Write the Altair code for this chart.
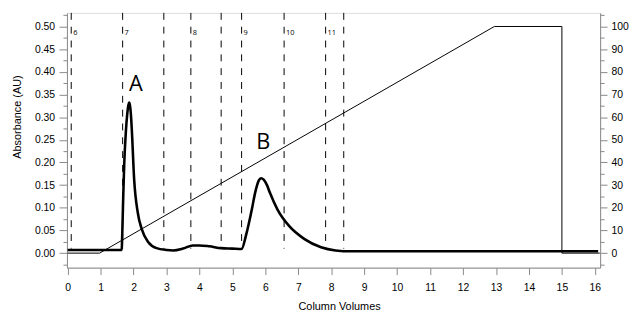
import altair as alt
import pandas as pd

# Absorbance trace (column volumes vs AU)
cv = [0.0, 1.64, 1.665, 1.69, 1.72, 1.77, 1.81, 1.845, 1.87, 1.895, 1.92, 1.95, 2.02, 2.13, 2.25, 2.45, 2.7,
      3.0, 3.2, 3.5, 3.8, 4.0, 4.3, 4.66, 5.0, 5.28, 5.41, 5.59, 5.69, 5.8, 5.87, 5.95, 6.05, 6.14, 6.37,
      6.72, 7.19, 7.69, 8.13, 8.6, 16.1]
absorbance = [0.007, 0.007, 0.06, 0.13, 0.2, 0.27, 0.307, 0.327, 0.332, 0.325, 0.307, 0.27, 0.162, 0.089,
              0.053, 0.024, 0.011, 0.007, 0.006, 0.010, 0.017, 0.017, 0.015, 0.011, 0.010, 0.009, 0.038,
              0.096, 0.133, 0.16, 0.165, 0.162, 0.15, 0.133, 0.096, 0.06, 0.031, 0.013, 0.006, 0.004, 0.004]

# Gradient (% B) on the right axis
grad_cv = [0.0, 0.97, 12.95, 15.0, 15.0, 16.15]
grad_pct = [0, 0, 100, 100, 0, 0]

# Fraction markers
frac_cv = [0.11, 1.67, 2.92, 3.74, 4.66, 5.28, 6.57, 7.83, 8.38]
frac_labels = ["6", "7", "", "8", "", "9", "10", "11", ""]
frac_top = 0.53
frac_bottom = 0.01
frac_label_y = 0.4865

# Peak labels
peak_names = ["A", "B"]
peak_cv = [2.07, 5.94]
peak_y = [0.372, 0.245]

x_ticks = list(range(0, 17))
left_ticks = [round(-0.025 + 0.025 * i, 3) for i in range(23)]
right_ticks = [-5 + 5 * i for i in range(23)]

FONT = "Open Sans"
x_scale = alt.Scale(domain=[-0.02, 16.16], nice=False, zero=False)
yl_scale = alt.Scale(domain=[-0.032, 0.53], nice=False, zero=False)
yr_scale = alt.Scale(domain=[-6.4, 106], nice=False, zero=False)

abs_df = pd.DataFrame({"cv": cv, "abs": absorbance})
grad_df = pd.DataFrame({"cv": grad_cv, "pct": grad_pct})
frac_df = pd.DataFrame({"cv": frac_cv, "label": frac_labels,
                        "top": [frac_top] * len(frac_cv), "bot": [frac_bottom] * len(frac_cv),
                        "ly": [frac_label_y] * len(frac_cv)})
peak_df = pd.DataFrame({"name": peak_names, "cv": peak_cv, "y": peak_y})

x_axis = alt.Axis(values=x_ticks, tickSize=7, labelPadding=8, labelFlush=False, grid=False,
                  title="Column Volumes", titleX=275.6, titleY=42, titleBaseline="alphabetic",
                  titleAlign="center", labelFontSize=10.5, titleFontSize=11, titleFontWeight="normal")

left_axis = alt.Axis(orient="left", values=left_ticks, grid=False, format=".2f",
                     labelExpr="abs(datum.value*20 - round(datum.value*20)) < 0.001 ? datum.label : ''",
                     tickSize={"condition": {"test": "abs(datum.value*20 - round(datum.value*20)) < 0.001",
                                             "value": 8}, "value": 4},
                     labelPadding=4.5, labelFontSize=10.5,
                     title="Absorbance (AU)", titleAngle=270, titleX=-50.2, titleY=105,
                     titleAlign="center", titleBaseline="middle", titleFontSize=11,
                     titleFontWeight="normal")

right_axis = alt.Axis(orient="right", values=right_ticks, grid=False,
                      labelExpr="datum.value % 10 == 0 ? datum.label : ''",
                      tickSize={"condition": {"test": "datum.value % 10 == 0", "value": 7}, "value": 4},
                      labelPadding=4, labelFontSize=10.5, title=None)

X = lambda f: alt.X(f, type="quantitative", scale=x_scale, axis=x_axis)
YL = lambda f: alt.Y(f, type="quantitative", scale=yl_scale, axis=left_axis)

abs_line = alt.Chart(abs_df).mark_line(color="black", strokeWidth=2.6, interpolate="monotone").encode(
    x=X("cv"), y=YL("abs"),
)

rules = alt.Chart(frac_df).mark_rule(color="black", strokeWidth=1, strokeDash=[7, 7]).encode(
    x=X("cv"), y=YL("top"), y2="bot:Q",
)

frac_text = alt.Chart(frac_df).mark_text(font=FONT, fontSize=7.5, align="left", baseline="middle",
                                         dx=2, color="black").encode(
    x=X("cv"), y=YL("ly"), text="label:N",
)

peak_text = alt.Chart(peak_df).mark_text(font=FONT, fontSize=22, align="center", baseline="middle",
                                         color="black").encode(
    x=X("cv"), y=YL("y"), text="name:N",
)

left_layer = alt.layer(rules, frac_text, peak_text, abs_line)

grad_line = alt.Chart(grad_df).mark_line(color="black", strokeWidth=1).encode(
    x=X("cv"),
    y=alt.Y("pct:Q", scale=yr_scale, axis=right_axis),
)

chart = alt.layer(left_layer, grad_line).resolve_scale(y="independent").properties(
    width=540, height=258,
    autosize=alt.AutoSizeParams(type="none"),
    padding={"left": 59.7, "top": 3, "right": 33.3, "bottom": 45},
).configure_view(stroke="black", strokeWidth=1).configure_axis(
    labelFont=FONT, titleFont=FONT, labelColor="black", titleColor="black",
    tickColor="black", domainColor="black", titleFontWeight="normal",
).configure(background="white")

chart.save("out.html", embed_options={"renderer": "svg", "actions": False})
